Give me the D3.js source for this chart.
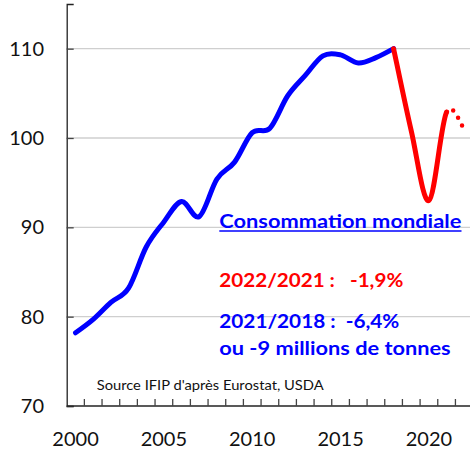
<!DOCTYPE html>
<html><head><meta charset="utf-8">
<script src="https://cdn.jsdelivr.net/npm/d3@7"></script>
<style>
html,body{margin:0;padding:0;background:#fff;}
svg{display:block;font-family:Lato,"Open Sans",sans-serif;}
text{white-space:pre;}
</style></head>
<body>
<svg id="c" width="470" height="449"></svg>
<script>
// ---- data ----
const years = d3.range(2000, 2023);
const blueYears = [2000,2001,2002,2003,2004,2005,2006,2007,2008,2009,2010,2011,2012,2013,2014,2015,2016,2017,2018];
const blueValues = [78.2,79.7,81.6,83.2,87.8,90.6,92.9,91.2,95.4,97.3,100.6,101.1,104.7,107.0,109.2,109.3,108.4,109.0,110.0];
const redYears = [2018,2019,2020,2021,2022];
const redValues = [110.0,100.8,93.0,102.9,101.0];
const yTicks = [70,80,90,100,110];
const xLabelYears = [2000,2005,2010,2015,2020];
const title = "Consommation mondiale";
const note1 = "2022/2021 :   -1,9%";
const note2 = "2021/2018 :  -6,4%";
const note3 = "ou -9 millions de tonnes";
const source = "Source IFIP d'après Eurostat, USDA";

const svg = d3.select("#c");
const x = d3.scaleBand().domain(years).range([66.7, 473.1]).paddingInner(0).paddingOuter(0);
const y = d3.scaleLinear().domain([70,115]).range([406, 4]);
const cx = yr => x(yr) + x.bandwidth()/2;

// gridlines
svg.append("g").selectAll("line").data(yTicks.filter(d=>d>70)).join("line")
  .attr("x1", 66.7).attr("x2", 470).attr("y1", d=>y(d)).attr("y2", d=>y(d))
  .attr("stroke", "#cfcfcf").attr("stroke-width", 1.3);

// y axis
const yAxis = svg.append("g").attr("transform","translate(66.7,0)")
  .call(d3.axisRight(y).tickValues(yTicks).tickSize(7).tickFormat(""));
yAxis.select(".domain").attr("stroke","#222").attr("stroke-width",1.3);
yAxis.selectAll(".tick line").attr("stroke","#444").attr("stroke-width",1.3);
svg.append("g").selectAll("text").data(yTicks).join("text")
  .attr("x", 44).attr("y", d=>y(d)+7).attr("text-anchor","end")
  .attr("font-size", 20).attr("fill","#111").text(d=>d);

// x axis
svg.append("line").attr("x1",66.7).attr("x2",470).attr("y1",406).attr("y2",406)
  .attr("stroke","#222").attr("stroke-width",1.3);
svg.append("g").selectAll("line").data(years.slice(1)).join("line")
  .attr("x1", d=>x(d)).attr("x2", d=>x(d)).attr("y1",406).attr("y2",399)
  .attr("stroke","#444").attr("stroke-width",1.3);
svg.append("g").selectAll("text").data(xLabelYears).join("text")
  .attr("x", d=>cx(d)).attr("y", 445.5).attr("text-anchor","middle")
  .attr("font-size", 20).attr("fill","#111").text(d=>d);

// blue line
const bluePts = blueYears.map((yr,i)=>[cx(yr), y(blueValues[i])]);
svg.append("path").attr("d", d3.line().curve(d3.curveCatmullRom.alpha(0))(bluePts))
  .attr("fill","none").attr("stroke","#0000ff").attr("stroke-width",5)
  .attr("stroke-linecap","round").attr("stroke-linejoin","round");

// red series: smooth segments
const redPts = redYears.map((yr,i)=>[cx(yr), y(redValues[i])]);
function seg(p, k, path){
  const p0 = p[k-1] || p[k], p1 = p[k], p2 = p[k+1], p3 = p[k+2] || p[k+1];
  path.bezierCurveTo(p1[0]+(p2[0]-p0[0])/6, p1[1]+(p2[1]-p0[1])/6,
                     p2[0]-(p3[0]-p1[0])/6, p2[1]-(p3[1]-p1[1])/6, p2[0], p2[1]);
}
const solid = d3.path();
solid.moveTo(redPts[0][0], redPts[0][1]);
for (let k=0;k<redPts.length-2;k++) seg(redPts,k,solid);
svg.append("path").attr("d", solid.toString())
  .attr("fill","none").attr("stroke","#ff0000").attr("stroke-width",5)
  .attr("stroke-linecap","round").attr("stroke-linejoin","round");
const dotted = d3.path();
const kl = redPts.length-2;
dotted.moveTo(redPts[kl][0], redPts[kl][1]);
seg(redPts, kl, dotted);
svg.append("path").attr("d", dotted.toString())
  .attr("fill","none").attr("stroke","#ff0000").attr("stroke-width",4.5)
  .attr("stroke-linecap","round").attr("stroke-dasharray","0 8.5");

// annotations
svg.append("text").attr("x",219.3).attr("y",228.3).attr("font-size",18.5).attr("font-weight","bold")
  .attr("fill","#0000ff").attr("textLength",242).attr("lengthAdjust","spacingAndGlyphs").text(title);
svg.append("line").attr("x1",219.3).attr("x2",461.5).attr("y1",231).attr("y2",231)
  .attr("stroke","#0000ff").attr("stroke-width",1.5);
svg.append("text").attr("x",219.3).attr("y",286.7).attr("font-size",18.5).attr("font-weight","bold")
  .attr("fill","#ff0000").attr("textLength",184).attr("lengthAdjust","spacingAndGlyphs").text(note1);
svg.append("text").attr("x",219.3).attr("y",328.3).attr("font-size",18.5).attr("font-weight","bold")
  .attr("fill","#0000ff").attr("textLength",180).attr("lengthAdjust","spacingAndGlyphs").text(note2);
svg.append("text").attr("x",219.3).attr("y",355.3).attr("font-size",18.5).attr("font-weight","bold")
  .attr("fill","#0000ff").attr("textLength",231.4).attr("lengthAdjust","spacingAndGlyphs").text(note3);
svg.append("text").attr("x",96.7).attr("y",389.5).attr("font-size",13.5)
  .attr("fill","#111").attr("textLength",227).attr("lengthAdjust","spacingAndGlyphs").text(source);
</script>
</body></html>
